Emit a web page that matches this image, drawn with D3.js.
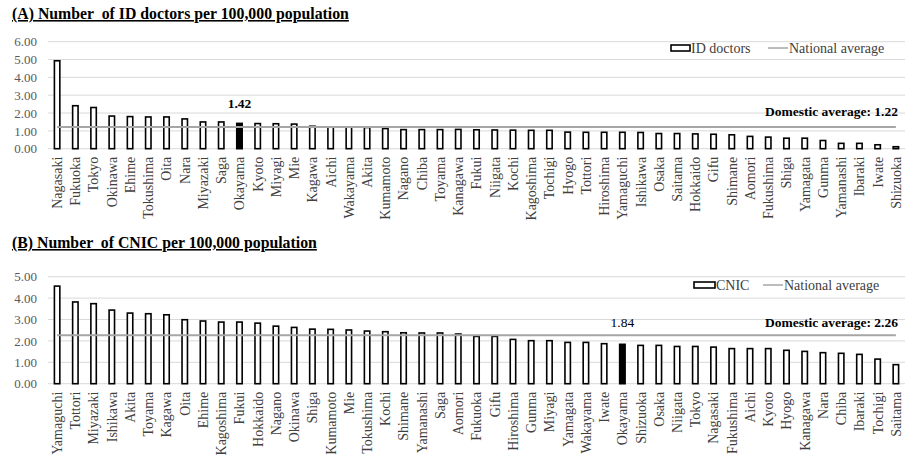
<!DOCTYPE html>
<html><head><meta charset="utf-8">
<script src="https://cdn.jsdelivr.net/npm/d3@7"></script>
<style>body{margin:0;background:#fff;} svg{display:block;}</style>
</head><body>
<svg id="c" width="907" height="459"></svg>
<script>
const catsA = ["Nagasaki","Fukuoka","Tokyo","Okinawa","Ehime","Tokushima","Oita","Nara","Miyazaki","Saga","Okayama","Kyoto","Miyagi","Mie","Kagawa","Aichi","Wakayama","Akita","Kumamoto","Nagano","Chiba","Toyama","Kanagawa","Fukui","Niigata","Kochi","Kagoshima","Tochigi","Hyogo","Tottori","Hiroshima","Yamaguchi","Ishikawa","Osaka","Saitama","Hokkaido","Gifu","Shimane","Aomori","Fukushima","Shiga","Yamagata","Gunma","Yamanashi","Ibaraki","Iwate","Shizuoka"];
const valsA = [4.93,2.41,2.31,1.83,1.80,1.78,1.78,1.67,1.50,1.50,1.42,1.41,1.40,1.38,1.26,1.22,1.22,1.19,1.13,1.07,1.07,1.07,1.08,1.06,1.05,1.04,1.03,1.03,0.93,0.92,0.92,0.92,0.91,0.85,0.85,0.83,0.81,0.78,0.69,0.65,0.59,0.59,0.46,0.30,0.30,0.22,0.11];
const avgA = 1.22;
const ticksA = [0,1,2,3,4,5,6];

const catsB = ["Yamaguchi","Tottori","Miyazaki","Ishikawa","Akita","Toyama","Kagawa","Oita","Ehime","Kagoshima","Fukui","Hokkaido","Nagano","Okinawa","Shiga","Kumamoto","Mie","Tokushima","Kochi","Shimane","Yamanashi","Saga","Aomori","Fukuoka","Gifu","Hiroshima","Gunma","Miyagi","Yamagata","Wakayama","Iwate","Okayama","Shizuoka","Osaka","Niigata","Tokyo","Nagasaki","Fukushima","Aichi","Kyoto","Hyogo","Kanagawa","Nara","Chiba","Ibaraki","Tochigi","Saitama"];
const valsB = [4.56,3.82,3.74,3.44,3.30,3.27,3.22,2.99,2.93,2.88,2.88,2.83,2.69,2.63,2.55,2.54,2.51,2.46,2.43,2.38,2.37,2.37,2.32,2.21,2.21,2.07,2.01,2.01,1.93,1.93,1.87,1.84,1.79,1.79,1.74,1.74,1.71,1.64,1.64,1.64,1.56,1.51,1.45,1.42,1.37,1.15,0.89];
const avgB = 2.26;
const ticksB = [0,1,2,3,4,5];

const svg = d3.select("#c");
const serif = "'Liberation Serif','Times New Roman',serif";

function panel(o){
  const g = svg.append("g");
  const x = d3.scaleBand().domain(o.cats).range([48,905]).paddingInner(0.62).paddingOuter(0.31);
  const y = d3.scaleLinear().domain([0,o.max]).range([o.y0,o.y1]);
  g.append("text").attr("x",12).attr("y",o.titleY).attr("font-family",serif).attr("font-size",15.8)
    .attr("font-weight","bold").attr("text-decoration","underline").attr("fill","#000").attr("xml:space","preserve").text(o.title);
  g.selectAll(".grid").data(o.ticks).enter().append("line")
    .attr("x1",48).attr("x2",905).attr("y1",d=>y(d)).attr("y2",d=>y(d))
    .attr("stroke","#d9d9d9").attr("stroke-width",1);
  const ax = d3.axisLeft(y).tickValues(o.ticks).tickFormat(d3.format(".2f")).tickSize(0).tickPadding(0);
  const ag = g.append("g").attr("transform","translate(37,0)").call(ax);
  ag.select(".domain").remove();
  ag.selectAll("text").attr("font-family",serif).attr("font-size",13).attr("fill","#595959");
  g.selectAll(".bar").data(o.vals).enter().append("rect")
    .attr("x",(d,i)=>x(o.cats[i])+0.75).attr("width",x.bandwidth()-1.5)
    .attr("y",d=>y(d)).attr("height",d=>y(0)-y(d))
    .attr("fill",(d,i)=>o.cats[i]==="Okayama"?"#000":"#fff")
    .attr("stroke","#000").attr("stroke-width",1.6);
  const c0 = x(o.cats[0])+x.bandwidth()/2, c1 = x(o.cats[o.cats.length-1])+x.bandwidth()/2;
  g.append("line").attr("x1",c0).attr("x2",c1).attr("y1",y(o.avg)).attr("y2",y(o.avg))
    .attr("stroke","#a6a6a6").attr("stroke-width",2);
  const xa = d3.axisBottom(x).tickSize(0).tickPadding(0);
  const xg = g.append("g").attr("transform",`translate(0,${y(0)})`).call(xa);
  xg.select(".domain").remove();
  xg.selectAll("text").attr("font-family",serif).attr("font-size",14).attr("fill","#404040")
    .attr("transform","rotate(-90)").attr("text-anchor","end").attr("x",-8).attr("y",0).attr("dy","0.35em");
  const oi = o.cats.indexOf("Okayama");
  g.append("text").attr("x",x("Okayama")+x.bandwidth()/2).attr("y",o.okY).attr("text-anchor","middle")
    .attr("font-family",serif).attr("font-size",13.5).attr("font-weight",o.okBold?"bold":"normal").attr("fill","#000")
    .text(o.vals[oi].toFixed(2));
  g.append("text").attr("x",898).attr("y",o.domY).attr("text-anchor","end")
    .attr("font-family",serif).attr("font-size",13.5).attr("font-weight","bold").attr("fill","#000")
    .text("Domestic average: " + o.avg.toFixed(2));
  const L = o.leg;
  g.append("rect").attr("x",L.bx).attr("y",L.by).attr("width",L.bw).attr("height",6)
    .attr("fill","#fff").attr("stroke","#000").attr("stroke-width",1.6);
  g.append("text").attr("x",L.bx+L.bw+1).attr("y",L.by+8).attr("font-family",serif).attr("font-size",14).attr("fill","#404040").text(o.series);
  g.append("line").attr("x1",L.lx).attr("x2",L.lx+20).attr("y1",L.by+3).attr("y2",L.by+3).attr("stroke","#a6a6a6").attr("stroke-width",1.5);
  g.append("text").attr("x",L.lx+21).attr("y",L.by+8).attr("font-family",serif).attr("font-size",14).attr("fill","#404040").text("National average");
}

panel({title:"(A) Number  of ID doctors per 100,000 population", titleY:19, cats:catsA, vals:valsA, avg:avgA, ticks:ticksA, max:6,
  y0:148.7, y1:41.7, okY:108, okBold:true, domY:116, series:"ID doctors",
  leg:{bx:671, by:45, bw:19, lx:768}});
panel({title:"(B) Number  of CNIC per 100,000 population", titleY:248, cats:catsB, vals:valsB, avg:avgB, ticks:ticksB, max:5,
  y0:383.7, y1:276.7, okY:327, okBold:false, domY:327, series:"CNIC",
  leg:{bx:694, by:282, bw:21, lx:763}});
</script>
</body></html>
